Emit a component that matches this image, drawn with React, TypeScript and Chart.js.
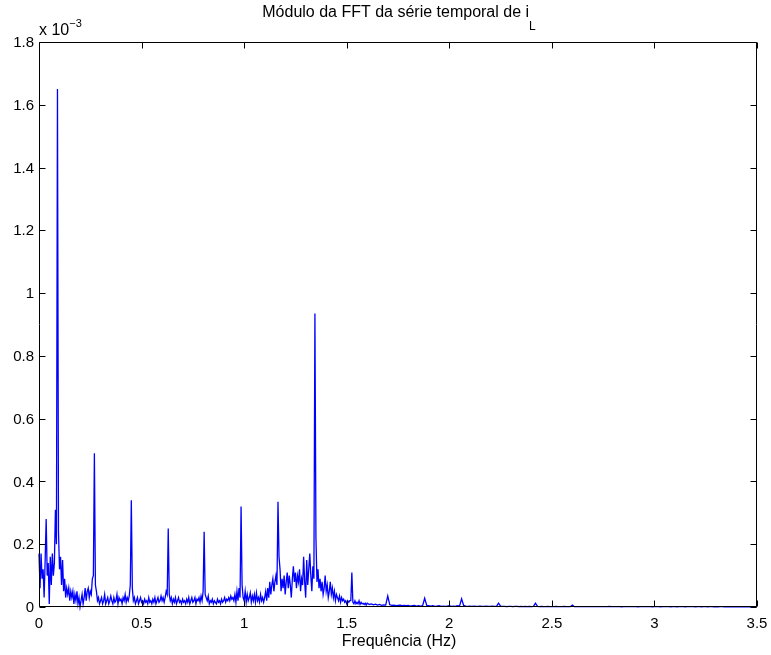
import React, { useEffect, useRef } from "react";
import { Chart, registerables } from "chart.js";

Chart.register(...registerables);

// Amplitudes in units of 10^-3, FFT bins from 0 Hz to 1.595 Hz (step 0.005 Hz)
const LOW_START_HZ = 0;
const LOW_STEP_HZ = 0.005;
const ampLow: number[] = [
  0.17, 0.06, 0.17, 0.09, 0.12, 0.03, 0.15, 0.28, 0.10, 0.14,
  0.01, 0.16, 0.07, 0.17, 0.10, 0.14, 0.31, 0.20, 1.65, 0.24,
  0.12, 0.16, 0.07, 0.15, 0.05, 0.09, 0.03, 0.06, 0.04, 0.06,
  0.02, 0.05, 0.03, 0.05, 0.01, 0.04, 0.02, 0.05, 0.01, 0.03,
  0.00, 0.02, 0.04, 0.01, 0.03, 0.06, 0.02, 0.05, 0.06, 0.03,
  0.05, 0.04, 0.09, 0.10, 0.49, 0.07, 0.05, 0.02, 0.03, 0.01,
  0.02, 0.03, 0.01, 0.02, 0.04, 0.01, 0.02, 0.03, 0.01, 0.02,
  0.035, 0.02, 0.01, 0.03, 0.015, 0.02, 0.04, 0.01, 0.03, 0.02,
  0.025, 0.01, 0.03, 0.02, 0.04, 0.015, 0.03, 0.02, 0.035, 0.07,
  0.34, 0.06, 0.02, 0.03, 0.01, 0.02, 0.03, 0.01, 0.02, 0.03,
  0.015, 0.02, 0.01, 0.025, 0.015, 0.02, 0.01, 0.03, 0.015, 0.02,
  0.01, 0.025, 0.015, 0.03, 0.01, 0.02, 0.03, 0.015, 0.02, 0.035,
  0.02, 0.03, 0.015, 0.03, 0.05, 0.04, 0.25, 0.04, 0.02, 0.03,
  0.01, 0.025, 0.015, 0.03, 0.01, 0.02, 0.03, 0.015, 0.02, 0.01,
  0.025, 0.015, 0.02, 0.01, 0.025, 0.015, 0.03, 0.01, 0.02, 0.03,
  0.015, 0.02, 0.03, 0.01, 0.025, 0.02, 0.03, 0.015, 0.035, 0.02,
  0.05, 0.24, 0.04, 0.03, 0.02, 0.035, 0.01, 0.02, 0.015, 0.025,
  0.01, 0.02, 0.015, 0.01, 0.025, 0.015, 0.02, 0.01, 0.025, 0.015,
  0.02, 0.03, 0.015, 0.025, 0.02, 0.03, 0.02, 0.035, 0.025, 0.03,
  0.02, 0.04, 0.015, 0.05, 0.02, 0.06, 0.03, 0.32, 0.07, 0.03,
  0.02, 0.05, 0.015, 0.04, 0.02, 0.03, 0.045, 0.015, 0.035, 0.02,
  0.04, 0.015, 0.045, 0.02, 0.03, 0.015, 0.04, 0.02, 0.03, 0.015,
  0.03, 0.05, 0.02, 0.06, 0.03, 0.08, 0.04, 0.07, 0.09, 0.05,
  0.08, 0.10, 0.07, 0.335, 0.16, 0.12, 0.05, 0.09, 0.06, 0.10,
  0.04, 0.08, 0.11, 0.06, 0.10, 0.07, 0.03, 0.09, 0.13, 0.08,
  0.11, 0.06, 0.10, 0.08, 0.12, 0.05, 0.09, 0.07, 0.16, 0.08,
  0.03, 0.15, 0.07, 0.12, 0.17, 0.10, 0.05, 0.13, 0.09, 0.935,
  0.22, 0.08, 0.12, 0.06, 0.09, 0.05, 0.08, 0.04, 0.06, 0.10,
  0.05, 0.07, 0.03, 0.05, 0.08, 0.04, 0.06, 0.03, 0.05, 0.02,
  0.04, 0.03, 0.02, 0.035, 0.015, 0.03, 0.02, 0.025, 0.015, 0.02,
  0.01, 0.02, 0.015, 0.02, 0.02, 0.11, 0.015, 0.01, 0.02, 0.01,
  0.015, 0.01, 0.02, 0.008, 0.015, 0.01, 0.012, 0.008, 0.012, 0.006,
];

// Amplitudes in units of 10^-3, FFT bins from 1.60 Hz to 3.50 Hz (step 0.01 Hz)
const HIGH_START_HZ = 1.6;
const HIGH_STEP_HZ = 0.01;
const ampHigh: number[] = [
  0.012, 0.008, 0.010, 0.007, 0.009, 0.006, 0.008, 0.005, 0.007, 0.006,
  0.035, 0.007, 0.005, 0.006, 0.004, 0.005, 0.006, 0.004, 0.005, 0.004,
  0.005, 0.003, 0.004, 0.005, 0.003, 0.004, 0.003, 0.004, 0.028, 0.005,
  0.004, 0.003, 0.004, 0.002, 0.003, 0.004, 0.002, 0.003, 0.002, 0.003,
  0.004, 0.002, 0.003, 0.002, 0.004, 0.003, 0.026, 0.005, 0.003, 0.002,
  0.003, 0.002, 0.003, 0.002, 0.002, 0.003, 0.002, 0.002, 0.003, 0.002,
  0.002, 0.003, 0.002, 0.002, 0.012, 0.003, 0.002, 0.002, 0.001, 0.002,
  0.002, 0.001, 0.002, 0.002, 0.001, 0.002, 0.001, 0.002, 0.001, 0.002,
  0.001, 0.002, 0.012, 0.002, 0.001, 0.002, 0.001, 0.001, 0.002, 0.001,
  0.001, 0.001, 0.002, 0.001, 0.001, 0.001, 0.002, 0.001, 0.001, 0.001,
  0.006, 0.001, 0.001, 0.001, 0.001, 0.001, 0.001, 0.001, 0.001, 0.001,
  0.001, 0.001, 0.001, 0.001, 0.001, 0.001, 0.001, 0.001, 0.002, 0.001,
  0.001, 0.0015, 0.001, 0.001, 0.0005, 0.001, 0.001, 0.0015, 0.001, 0.001,
  0.001, 0.001, 0.0005, 0.001, 0.001, 0.001, 0.0015, 0.001, 0.001, 0.0005,
  0.001, 0.001, 0.001, 0.0005, 0.001, 0.001, 0.001, 0.001, 0.0005, 0.001,
  0.001, 0.0005, 0.001, 0.001, 0.001, 0.0005, 0.001, 0.001, 0.001, 0.001,
  0.0005, 0.001, 0.001, 0.0005, 0.001, 0.001, 0.0005, 0.001, 0.001, 0.0005,
  0.001, 0.0005, 0.001, 0.001, 0.0005, 0.001, 0.0005, 0.001, 0.0005, 0.001,
  0.0005, 0.001, 0.0005, 0.001, 0.0005, 0.0005, 0.001, 0.0005, 0.001, 0.0005,
  0.0005,
];

const X_MIN = 0;
const X_MAX = 3.5;
const X_STEP = 0.5;
const Y_MIN = 0;
const Y_MAX = 1.8;
const Y_STEP = 0.2;

const TITLE_MAIN = "Módulo da FFT da série temporal de i";
const TITLE_SUB = "L";
const X_LABEL = "Frequência (Hz)";
const EXP_BASE = "x 10";
const EXP_POWER = "\u22123";

const FONT = '"Liberation Sans", Arial, Helvetica, sans-serif';

function fmt(v: number): string {
  return String(Number(v.toFixed(2)));
}

function setFont(ctx: any, size: number) {
  ctx.font = `${size}px ${FONT}`;
}

const matlabAxes = {
  id: "matlabAxes",
  afterDraw(chart: any) {
    const { ctx, chartArea: a, scales } = chart;
    const xs = scales.x;
    const ys = scales.y;
    const L = Math.round(a.left) + 0.5;
    const R = Math.round(a.right) - 0.5;
    const T = Math.round(a.top) + 0.5;
    const B = Math.round(a.bottom) - 0.5;
    const tickLen = 6;
    ctx.save();
    ctx.strokeStyle = "#000";
    ctx.lineWidth = 1;
    ctx.beginPath();
    ctx.rect(L, T, R - L, B - T);
    ctx.stroke();

    ctx.beginPath();
    xs.ticks.forEach((t: any) => {
      const px = Math.round(xs.getPixelForValue(t.value)) + 0.5;
      ctx.moveTo(px, B);
      ctx.lineTo(px, B - tickLen);
      ctx.moveTo(px, T);
      ctx.lineTo(px, T + tickLen);
    });
    ys.ticks.forEach((t: any) => {
      const py = Math.round(ys.getPixelForValue(t.value)) + 0.5;
      ctx.moveTo(L, py);
      ctx.lineTo(L + tickLen, py);
      ctx.moveTo(R, py);
      ctx.lineTo(R - tickLen, py);
    });
    ctx.stroke();

    ctx.fillStyle = "#000";

    // y tick labels
    setFont(ctx, 15);
    ctx.textAlign = "right";
    ctx.textBaseline = "middle";
    ys.ticks.forEach((t: any) => {
      const py = ys.getPixelForValue(t.value);
      ctx.fillText(fmt(t.value), a.left - 5, py + 1);
    });

    // x tick labels
    ctx.textAlign = "center";
    ctx.textBaseline = "alphabetic";
    xs.ticks.forEach((t: any) => {
      const px = xs.getPixelForValue(t.value);
      ctx.fillText(fmt(t.value), px, a.bottom + 21);
    });

    // x axis label
    const cx = (a.left + a.right) / 2;
    setFont(ctx, 16);
    ctx.fillText(X_LABEL, cx + 1, a.bottom + 39);

    // title with subscript
    ctx.textAlign = "left";
    setFont(ctx, 16);
    const mainW = ctx.measureText(TITLE_MAIN).width;
    setFont(ctx, 12);
    const subW = ctx.measureText(TITLE_SUB).width;
    const startX = cx - (mainW + subW) / 2 + 1;
    setFont(ctx, 16);
    ctx.fillText(TITLE_MAIN, startX, a.top - 25);
    setFont(ctx, 12);
    ctx.fillText(TITLE_SUB, startX + mainW, a.top - 12);

    // exponent label
    setFont(ctx, 16);
    const baseW = ctx.measureText(EXP_BASE).width;
    ctx.fillText(EXP_BASE, a.left, a.top - 7);
    setFont(ctx, 11);
    ctx.fillText(EXP_POWER, a.left + baseW, a.top - 15);

    ctx.restore();
  },
};

export default function App() {
  const canvasRef = useRef<HTMLCanvasElement | null>(null);

  useEffect(() => {
    document.body.style.margin = "0";
    const canvas = canvasRef.current;
    if (!canvas) return;

    const points = [
      ...ampLow.map((v, i) => ({ x: LOW_START_HZ + i * LOW_STEP_HZ, y: v })),
      ...ampHigh.map((v, j) => ({ x: HIGH_START_HZ + j * HIGH_STEP_HZ, y: v })),
    ];

    const chart = new Chart(canvas, {
      type: "line",
      data: {
        datasets: [
          {
            data: points,
            borderColor: "#0000ff",
            borderWidth: 1.3,
            pointRadius: 0,
            tension: 0,
            fill: false,
            clip: 4,
          },
        ],
      },
      options: {
        responsive: false,
        animation: false,
        devicePixelRatio: 1,
        layout: { padding: { top: 42, right: 14, left: 0, bottom: 0 } },
        plugins: {
          legend: { display: false },
          tooltip: { enabled: false },
          title: { display: false },
        },
        scales: {
          x: {
            type: "linear",
            min: X_MIN,
            max: X_MAX,
            ticks: { stepSize: X_STEP, display: false },
            grid: { display: false, drawTicks: false },
            border: { display: false },
            afterFit: (s: any) => {
              s.height = 48;
            },
          },
          y: {
            type: "linear",
            min: Y_MIN,
            max: Y_MAX,
            ticks: { stepSize: Y_STEP, display: false },
            grid: { display: false, drawTicks: false },
            border: { display: false },
            afterFit: (s: any) => {
              s.width = 39;
            },
          },
        },
      },
      plugins: [matlabAxes],
    } as any);

    return () => chart.destroy();
  }, []);

  return (
    <div style={{ width: 771, height: 655, background: "#fff" }}>
      <canvas ref={canvasRef} width={771} height={655} />
    </div>
  );
}
